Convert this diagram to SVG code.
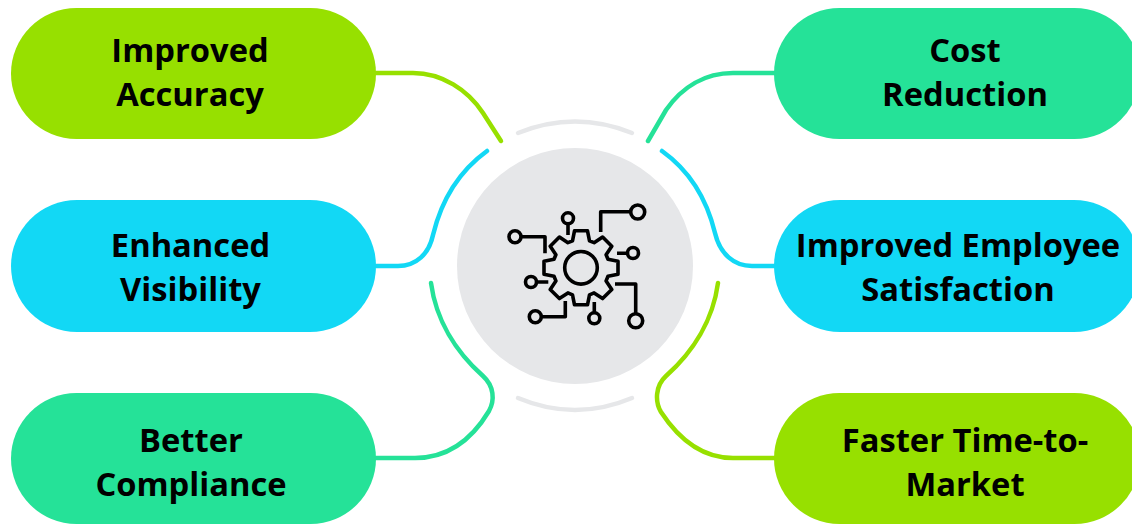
<svg xmlns="http://www.w3.org/2000/svg" width="1132" height="525" viewBox="0 0 1132 525">
<style>
.lime{fill:#97e000}.cyan{fill:#12d8f5}.green{fill:#25e298}
.conn{fill:none;stroke-width:4.5;stroke-linecap:round}
.arc{fill:none;stroke:#e6e7e9;stroke-width:4.5;stroke-linecap:round}
.ic{fill:none;stroke:#000;stroke-width:3.6;stroke-linejoin:round;stroke-linecap:butt}
text{font-family:"Open Sans",sans-serif;font-weight:700;font-size:32.7px;fill:#000;text-anchor:middle}
</style>
<rect width="1132" height="525" fill="#fff"/>
<g id="connectors">
<path class="conn" stroke="#97e000" d="M376 73H413C442 73 468 90 483 113L501 141"/>
<path class="conn" stroke="#12d8f5" d="M487 151C458 172 441 202 433 235C429 254 416 266 398 266H376"/>
<path class="conn" stroke="#25e298" d="M431 283C436 320 456 352 483 376C494 386 495 400 489 411C471 441 446 458 415 458H376"/>
<path class="conn" stroke="#25e298" d="M775 73H733C705 73 682 87 666 110L648 141"/>
<path class="conn" stroke="#12d8f5" d="M662 151C690 171 707 200 715 233C720 254 734 266 752 266H775"/>
<path class="conn" stroke="#97e000" d="M718 283C713 320 693 352 666 376C655 386 655 402 661 412C680 441 703 458 733 458H775"/>
</g>
<g id="center">
<circle cx="575" cy="266" r="118" fill="#e6e7e9"/>
<path class="arc" d="M518 133Q575 110 632 133"/>
<path class="arc" d="M518 398Q575 422 632 398"/>
<g id="icon">
<circle class="ic" cx="581" cy="267.800" r="16.300"/>
<path class="ic" transform="translate(581 267.800)" d="M-8.500-27L-6.500-37H6.500L8.500-27L13.080-25.100L21.600-30.760L30.760-21.600L25.100-13.080L27-8.500L37-6.500V6.500L27 8.500L25.100 13.080L30.760 21.600L21.600 30.760L13.080 25.100L8.500 27L6.500 37H-6.500L-8.500 27L-13.080 25.100L-21.600 30.760L-30.760 21.600L-25.100 13.080L-27 8.500L-37 6.500V-6.500L-27-8.500L-25.100-13.080L-30.760-21.600L-21.600-30.760L-13.080-25.100Z"/>
<path class="ic" d="M568 224V235M600.700 232V211.700H630M617 253.300H627M615 284H635.700V313M594.300 302V312.500M565.300 301V316.700H541.500M548.300 282H537M545 253.300V236.700H521.500"/>
<circle class="ic" cx="568" cy="218.300" r="5.500"/>
<circle class="ic" cx="637.700" cy="212" r="7"/>
<circle class="ic" cx="633" cy="253" r="5.500"/>
<circle class="ic" cx="635.700" cy="320.700" r="7"/>
<circle class="ic" cx="594.300" cy="318.300" r="5.500"/>
<circle class="ic" cx="535.300" cy="316.700" r="6"/>
<circle class="ic" cx="531" cy="282" r="5.500"/>
<circle class="ic" cx="515" cy="236.700" r="6"/>
</g>
</g>
<g id="node-accuracy"><rect class="lime" x="11" y="8" width="365" height="131" rx="65.500"/><text x="190" y="62">Improved</text><text x="190" y="106">Accuracy</text></g>
<g id="node-visibility"><rect class="cyan" x="11" y="200" width="365" height="132" rx="66"/><text x="190.500" y="257">Enhanced</text><text x="190.500" y="301">Visibility</text></g>
<g id="node-compliance"><rect class="green" x="11" y="393" width="365" height="131" rx="65.500"/><text x="191" y="452">Better</text><text x="191" y="496">Compliance</text></g>
<g id="node-cost"><rect class="green" x="774" y="8" width="366" height="131" rx="65.500"/><text x="965" y="62">Cost</text><text x="965" y="106">Reduction</text></g>
<g id="node-employee"><rect class="cyan" x="774" y="200" width="366" height="132" rx="66"/><text x="958" y="257">Improved Employee</text><text x="958" y="301">Satisfaction</text></g>
<g id="node-market"><rect class="lime" x="774" y="393" width="366" height="131" rx="65.500"/><text x="965" y="452">Faster Time-to-</text><text x="965" y="496">Market</text></g>
</svg>
